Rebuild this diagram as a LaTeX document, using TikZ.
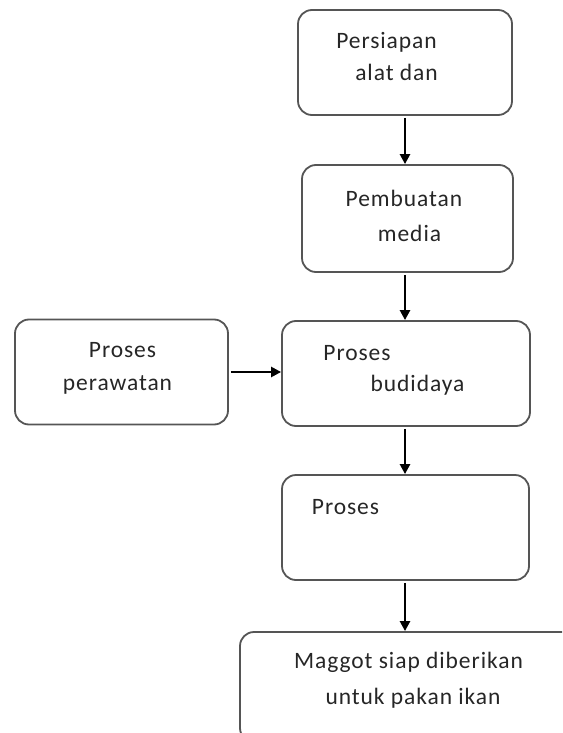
\documentclass[tikz,border=0pt]{standalone}
\usepackage{fontspec}
\setmainfont{Carlito}[LetterSpace=4.0]
\usetikzlibrary{arrows.meta}
\definecolor{boxline}{HTML}{555555}
\begin{document}
\begin{tikzpicture}[x=1pt,y=-1pt,
  box/.style={draw=boxline,line width=1.8pt,rounded corners=14pt,inner sep=0pt},
  arr/.style={-{Triangle[length=10pt,width=10pt]},line width=2.4pt},
  txt/.style={font=\fontsize{23.5}{27}\selectfont,text=black!85}]
\useasboundingbox (0,0) rectangle (562,733);
\clip (0,0) rectangle (562,733);
% boxes
\node[box,minimum width=214pt,minimum height=105pt] (alat) at (405,62.5) {};
\node[box,minimum width=211pt,minimum height=107pt] (media) at (407.5,218.5) {};
\node[box,minimum width=248pt,minimum height=105pt] (budidaya) at (406,373.5) {};
\node[box,minimum width=213pt,minimum height=105pt] (rawat) at (121.5,372) {};
\node[box,minimum width=247pt,minimum height=105pt] (proses) at (405.5,527.5) {};
\node[box,minimum width=340pt,minimum height=110pt] (maggot) at (410,687) {};
% texts
\node[txt] (t1a) at (386.5,42) {Persiapan};
\node[txt] (t1b) at (396.5,72) {alat dan};
\node[txt] (t2a) at (404,198) {Pembuatan};
\node[txt] (t2b) at (409.5,233) {media};
\node[txt] (t3a) at (357,353) {Proses};
\node[txt] (t3b) at (417.5,385) {budidaya};
\node[txt] (t4a) at (122.5,350) {Proses};
\node[txt] (t4b) at (117.5,385) {perawatan};
\node[txt] (t5a) at (345.5,507) {Proses};
\node[txt] (t6a) at (408.5,662) {Maggot siap diberikan};
\node[txt] (t6b) at (413,698) {untuk pakan ikan};
% arrows
\draw[arr] ([yshift=-2pt]alat.south) -- (alat.south |- media.north);
\draw[arr] ([yshift=-2pt]media.south -| alat.south) -- (alat.south |- budidaya.north);
\draw[arr] ([yshift=-2pt]budidaya.south -| alat.south) -- (alat.south |- proses.north);
\draw[arr] ([yshift=-2pt]proses.south -| alat.south) -- (alat.south |- maggot.north);
\draw[arr] ([xshift=2pt]rawat.east) -- (rawat.east -| budidaya.west);
\end{tikzpicture}
\end{document}
